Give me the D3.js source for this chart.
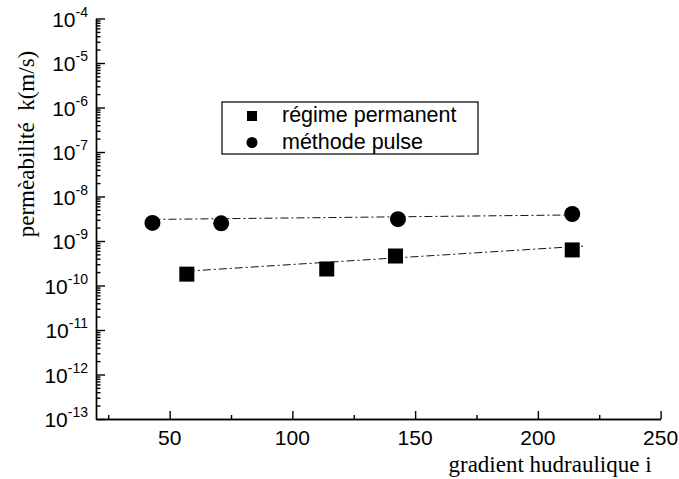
<!DOCTYPE html>
<html>
<head>
<meta charset="utf-8">
<script src="https://cdn.jsdelivr.net/npm/d3@7"></script>
<style>
  body { margin: 0; background: #fff; }
  svg { display: block; }
  .axis path, .axis line { stroke: #000; stroke-width: 1.4; }
  .tick-label { font-family: "Liberation Sans", Arial, sans-serif; font-size: 21px; fill: #000; }
  .title { font-family: "Liberation Serif", "Times New Roman", serif; font-size: 23px; fill: #000; white-space: pre; }
  .legend-text { font-family: "Liberation Sans", Arial, sans-serif; font-size: 21.5px; fill: #000; }
</style>
</head>
<body>
<div id="chart"></div>
<script>
//Chart data
var squareX = [57, 114, 142, 214];
var squareY = [1.8e-10, 2.35e-10, 4.6e-10, 6.3e-10];
var circleX = [43, 71, 143, 214];
var circleY = [2.55e-9, 2.5e-9, 3.1e-9, 4.05e-9];

//Dash-dot fit lines (end points)
var squareFitX = [57, 218.5];
var squareFitY = [2.1e-10, 7.7e-10];
var circleFitX = [43, 214];
var circleFitY = [3.05e-9, 3.85e-9];

//Tick values
var xMajor = [50, 100, 150, 200, 250];
var xMinor = [25, 75, 125, 175, 225];
var yExponents = [-13, -12, -11, -10, -9, -8, -7, -6, -5, -4];

var seriesNames = ["régime permanent", "méthode pulse"];
var xTitle = "gradient hudraulique i";
var yTitle = "permèabilité  k(m/s)";

var width = 679, height = 479;
var margin = {top: 18.5, right: 18.4, bottom: 60, left: 96};

var svg = d3.select("#chart").append("svg")
    .attr("width", width)
    .attr("height", height)
    .style("background-color", "#fff");

var x = d3.scaleLinear().domain([20, 250]).range([margin.left, width - margin.right]);
var y = d3.scaleLog().domain([1e-13, 1e-4]).range([height - margin.bottom, margin.top]);

var yMajor = yExponents.map(function(e) { return Math.pow(10, e); });
var yMinor = [];
yExponents.slice(0, -1).forEach(function(e) {
  for (var k = 2; k <= 9; k++) yMinor.push(k * Math.pow(10, e));
});

//X axis - ticks point inward
svg.append("g")
    .attr("class", "axis")
    .attr("transform", "translate(0," + y.range()[0] + ")")
    .call(d3.axisBottom(x).tickValues(xMinor).tickSize(-4).tickSizeOuter(0).tickFormat(""));
svg.append("g")
    .attr("class", "axis")
    .attr("transform", "translate(0," + y.range()[0] + ")")
    .call(d3.axisBottom(x).tickValues(xMajor).tickSize(-8).tickSizeOuter(0).tickFormat(""));

svg.selectAll(".x-label")
  .data(xMajor)
  .enter().append("text")
    .attr("class", "tick-label")
    .attr("text-anchor", "middle")
    .attr("x", function(d) { return x(d); })
    .attr("y", y.range()[0] + 26)
    .text(function(d) { return d; });

//Y axis
svg.append("g")
    .attr("class", "axis")
    .attr("transform", "translate(" + margin.left + ",0)")
    .call(d3.axisLeft(y).tickValues(yMinor).tickSize(-4.5).tickSizeOuter(0).tickFormat(""));
svg.append("g")
    .attr("class", "axis")
    .attr("transform", "translate(" + margin.left + ",0)")
    .call(d3.axisLeft(y).tickValues(yMajor).tickSize(-9).tickSizeOuter(0).tickFormat(""));

var yLab = svg.selectAll(".y-label")
  .data(yExponents)
  .enter().append("text")
    .attr("class", "tick-label")
    .attr("text-anchor", "end")
    .attr("x", margin.left - 8)
    .attr("y", function(e) { return y(Math.pow(10, e)) + 8; });
yLab.append("tspan").text("10");
yLab.append("tspan")
    .attr("dy", -10)
    .style("font-size", "14px")
    .text(function(e) { return "-" + Math.abs(e); });

//Axis titles
svg.append("text")
    .attr("class", "title")
    .attr("text-anchor", "end")
    .attr("x", x(250) - 9)
    .attr("y", 472)
    .text(xTitle);

svg.append("text")
    .attr("class", "title")
    .attr("text-anchor", "middle")
    .attr("transform", "translate(34,144) rotate(-90)")
    .text(yTitle);

//Fit lines
var lineGen = d3.line()
    .x(function(d) { return x(d[0]); })
    .y(function(d) { return y(d[1]); });

[[squareFitX, squareFitY], [circleFitX, circleFitY]].forEach(function(f) {
  svg.append("path")
      .datum(d3.zip(f[0], f[1]))
      .attr("d", lineGen)
      .attr("fill", "none")
      .attr("stroke", "#111")
      .attr("stroke-width", 1)
      .attr("stroke-dasharray", "8,3,2,3");
});

//Points
svg.selectAll(".sq")
  .data(d3.zip(squareX, squareY))
  .enter().append("rect")
    .attr("x", function(d) { return x(d[0]) - 7.5; })
    .attr("y", function(d) { return y(d[1]) - 7.5; })
    .attr("width", 15)
    .attr("height", 15)
    .attr("fill", "#000");

svg.selectAll(".ci")
  .data(d3.zip(circleX, circleY))
  .enter().append("circle")
    .attr("cx", function(d) { return x(d[0]); })
    .attr("cy", function(d) { return y(d[1]); })
    .attr("r", 8)
    .attr("fill", "#000");

//Legend
var legend = svg.append("g").attr("transform", "translate(222,102)");
legend.append("rect")
    .attr("width", 256)
    .attr("height", 52)
    .attr("fill", "#fff")
    .attr("stroke", "#000")
    .attr("stroke-width", 1.2);
legend.append("rect")
    .attr("x", 25).attr("y", 9)
    .attr("width", 10).attr("height", 10)
    .attr("fill", "#000");
legend.append("circle")
    .attr("cx", 30).attr("cy", 40.5)
    .attr("r", 5.5)
    .attr("fill", "#000");
legend.selectAll(".legend-text")
  .data(seriesNames)
  .enter().append("text")
    .attr("class", "legend-text")
    .attr("x", 60)
    .attr("y", function(d, i) { return 20 + i * 26.5; })
    .text(function(d) { return d; });
</script>
</body>
</html>
